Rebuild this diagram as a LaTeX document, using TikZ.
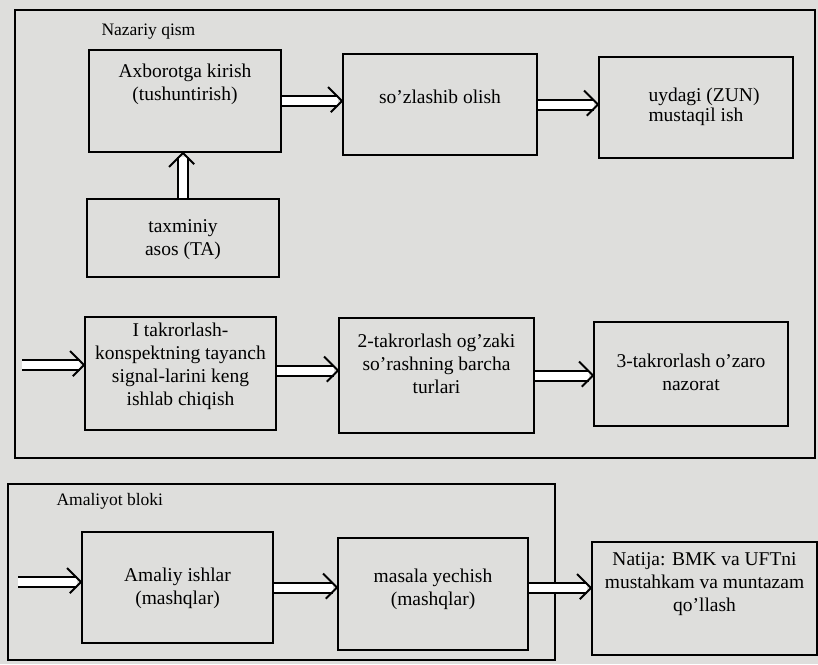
\documentclass[tikz,border=0pt]{standalone}
\usepackage{fontspec}
\setmainfont{Liberation Serif}
\usetikzlibrary{decorations.markings}
\definecolor{paper}{RGB}{222,222,220}
\begin{document}
\begin{tikzpicture}[x=1pt,y=-1pt,
	box/.style={draw,line width=1.9pt,inner sep=0pt},
	txt/.style={align=center,font=\fontsize{19.5}{23}\selectfont},
	dbl/.style={double,double distance=8pt,line width=2pt,shorten >=4pt,
		postaction={decorate},decoration={markings,mark=at position 1 with
		{\draw[line width=2pt] (-14pt,14pt) -- (0pt,0pt) -- (-14pt,-14pt);}}}]
		\fill[paper] (0,0) rectangle (818,664);
		\useasboundingbox (0,0) rectangle (818,664);
		% Nazariy qism
		\draw[line width=2pt] (15,10) rectangle (815,458);
		\node[anchor=west,font=\fontsize{17.5}{20}\selectfont] (naz) at (98,32) {Nazariy qism};
		\node[box,minimum width=192pt,minimum height=102pt] (axb) at (185,101) {};
		\node[box,minimum width=194pt,minimum height=101pt] (soz) at (440,104.5) {};
		\node[box,minimum width=194pt,minimum height=101pt] (uyd) at (696,107.5) {};
		\node[box,minimum width=192pt,minimum height=78pt] (tax) at (183,238) {};
		\node[box,minimum width=191pt,minimum height=113pt] (tk1) at (180.5,373.5) {};
		\node[box,minimum width=195pt,minimum height=115pt] (tk2) at (436.5,375.5) {};
		\node[box,minimum width=194pt,minimum height=104pt] (tk3) at (691,374) {};
		\node[txt] (axbt) at (185,84) {Axborotga kirish\\(tushuntirish)};
		\node[txt] (sozt) at (440,97) {so'zlashib olish};
		\node[txt,align=left,anchor=west,font=\fontsize{19.5}{20}\selectfont] (uydt) at (645,107) {uydagi (ZUN)\\mustaqil ish};
		\node[txt] (taxt) at (183,240) {taxminiy\\asos (TA)};
		\node[txt] (tk1t) at (180.5,366) {I takrorlash-\\konspektning tayanch\\signal-larini keng\\ishlab chiqish};
		\node[txt] (tk2t) at (436.5,364) {2-takrorlash og'zaki\\so'rashning barcha\\turlari};
		\node[txt] (tk3t) at (691,372) {3-takrorlash o'zaro\\nazorat};
		\coordinate (in1) at (22,365);
		\draw[dbl] (axb.east) -- (axb.east -| soz.west);
		\draw[dbl] (soz.east) -- (soz.east -| uyd.west);
		\draw[dbl] (tax.north) -- (tax.north |- axb.south);
		\draw[dbl] (in1) -- (in1 -| tk1.west);
		\draw[dbl] ([yshift=3pt]tk1.east) -- ([yshift=3pt]tk1.east -| tk2.west);
		\draw[dbl] (tk2.east) -- (tk2.east -| tk3.west);
		% Amaliyot bloki
		\draw[line width=2pt] (8,484) rectangle (555,660);
		\node[anchor=west,font=\fontsize{17.5}{20}\selectfont] (aml) at (53,501) {Amaliyot bloki};
		\node[box,minimum width=191pt,minimum height=111pt] (ami) at (177.5,587.5) {};
		\node[box,minimum width=190pt,minimum height=112pt] (mas) at (433,594) {};
		\node[box,minimum width=225pt,minimum height=113pt] (nat) at (704.5,598.5) {};
		\node[txt] (amit) at (177.5,588) {Amaliy ishlar\\(mashqlar)};
		\node[txt] (mast) at (433,589) {masala yechish\\(mashqlar)};
		\node[txt] (natt) at (704.5,584) {Natija: BMK va UFTni\\mustahkam va muntazam\\qo'llash};
		\coordinate (in2) at (18,582);
		\draw[dbl] (in2) -- (in2 -| ami.west);
		\draw[dbl] (ami.east) -- (ami.east -| mas.west);
		\draw[dbl] ([yshift=6pt]mas.east) -- ([yshift=6pt]mas.east -| nat.west);
\end{tikzpicture}
\end{document}
